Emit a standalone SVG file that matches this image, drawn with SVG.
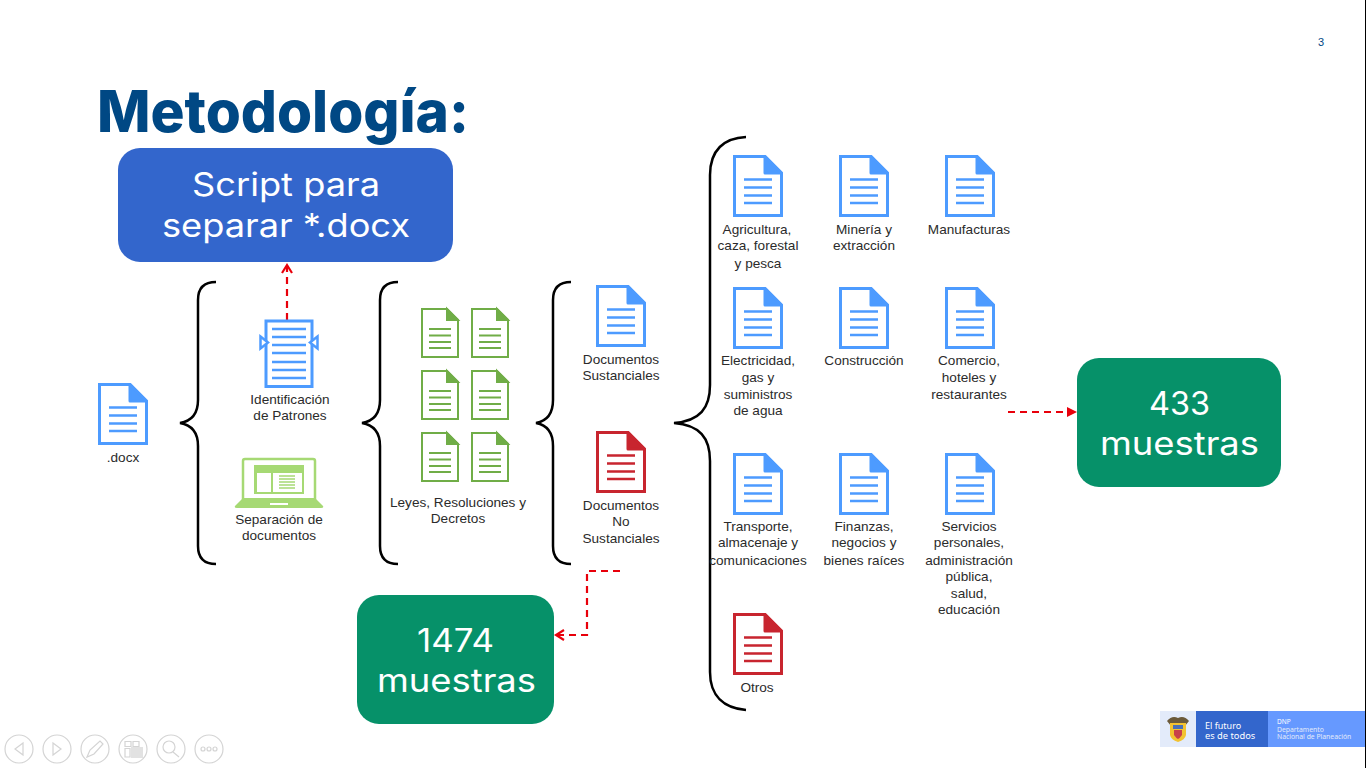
<svg xmlns="http://www.w3.org/2000/svg" width="1366" height="768" viewBox="0 0 1366 768">
<style>
.lb{font:13.6px "Liberation Sans",Arial,sans-serif;fill:#2b2b2b;text-anchor:middle}
.bx{font:32px Inter,"DejaVu Sans",sans-serif;fill:#fff;text-anchor:middle}
.brace{fill:none;stroke:#000;stroke-width:2.5}
.dash{fill:none;stroke:#e8000b;stroke-width:2.2;stroke-dasharray:7 5}
.tip{fill:none;stroke:#e8000b;stroke-width:2.2}
.blue{color:#4d9bff}.red{color:#c8252f}.green{color:#70ad47}
.nav{fill:#fff;stroke:#d4d4d4;stroke-width:1.2}
.navi{fill:none;stroke:#d4d4d4;stroke-width:1.2}
</style>
<defs>
<symbol id="doc" viewBox="0 0 50 62" overflow="visible">
<path d="M1.5 1.5H32L48.5 18V60.500H1.500Z" fill="#fff" stroke="currentColor" stroke-width="3"/>
<path d="M32 1.500L48.500 18H32Z" fill="currentColor" stroke="currentColor" stroke-width="3" stroke-linejoin="round"/>
<path d="M11 24.500H39M11 32.500H39M11 40.500H39M11 48H39" stroke="currentColor" stroke-width="2.400" fill="none"/>
</symbol>
<symbol id="gdoc" viewBox="0 0 38 50" overflow="visible">
<path d="M1 1H26L37 12V49H1Z" fill="#fff" stroke="currentColor" stroke-width="2"/>
<path d="M26 1L37 12H26Z" fill="currentColor" stroke="currentColor" stroke-width="2"/>
<path d="M8 21H30M8 27.500H30M8 34H30M8 40H30" stroke="currentColor" stroke-width="2" fill="none"/>
</symbol>
</defs>
<rect width="1366" height="768" fill="#fff"/>
<text x="1321" y="46" font-family="'Liberation Sans',Arial,sans-serif" font-size="11" fill="#004884" text-anchor="middle">3</text>
<text x="97" y="132" font-family="Inter,'Open Sans',sans-serif" font-size="58" font-weight="800" fill="#004884" textLength="372" lengthAdjust="spacingAndGlyphs">Metodología:</text>

<g id="connectors">
<path class="brace" d="M216 282C204 282 198 288 198 300V400C198 414 192 421 180 423C192 425 198 432 198 446V546C198 558 204 564 216 564"/>
<path class="brace" d="M398 282C386 282 380 288 380 300V400C380 414 374 421 362 423C374 425 380 432 380 446V546C380 558 386 564 398 564"/>
<path class="brace" d="M571 282C559 282 553 288 553 300V400C553 414 547 421 536 423C547 425 553 432 553 446V546C553 558 559 564 571 564"/>
<path class="brace" d="M746 137C724 138 710 150 710 175V385C710 408 700 421 674 423C700 425 710 438 710 461V672C710 696 724 708 746 710"/>
<path class="dash" d="M287 320V266"/>
<path class="tip" d="M282 273L287 265L292 273"/>
<path class="dash" d="M620 571H587V635H557"/>
<path class="tip" d="M564 630L556 635L564 640"/>
<path class="dash" d="M1008 412H1068"/>
<path d="M1067 407L1077 412L1067 417Z" fill="#e8000b"/>
</g>

<g id="script"><rect x="118" y="148" width="335" height="114" rx="22" fill="#3366cc"/><text class="bx" x="286" y="196" textLength="188" lengthAdjust="spacingAndGlyphs">Script para</text><text class="bx" x="286" y="237" textLength="248" lengthAdjust="spacingAndGlyphs">separar *.docx</text></g>
<g id="m433"><rect x="1077" y="358" width="204" height="129" rx="22" fill="#069169"/><text class="bx" x="1179.500" y="414.500" textLength="61" lengthAdjust="spacingAndGlyphs">433</text><text class="bx" x="1179.500" y="455" textLength="159" lengthAdjust="spacingAndGlyphs">muestras</text></g>
<g id="m1474"><rect x="357" y="595" width="197" height="129" rx="22" fill="#069169"/><text class="bx" x="455.500" y="652" textLength="77" lengthAdjust="spacingAndGlyphs">1474</text><text class="bx" x="456.500" y="692" textLength="159" lengthAdjust="spacingAndGlyphs">muestras</text></g>

<g id="docx"><use href="#doc" class="blue" x="98" y="383" width="50" height="62"/><text class="lb" x="123" y="462">.docx</text></g>
<g id="patrones">
<rect x="266" y="321" width="46" height="65.500" fill="#fff" stroke="#4d9bff" stroke-width="3"/>
<path d="M272 329H306M272 337H306M272 345H306M272 353H306M272 362H306M272 370H306M272 378H306" stroke="#4d9bff" stroke-width="2.400"/>
<path d="M260.500 336.500L268 342.500L260.500 348.500Z M317.500 336.500L310 342.500L317.500 348.500Z" fill="#fff" stroke="#4d9bff" stroke-width="2.500"/>
<text class="lb" x="290" y="404">Identificación</text><text class="lb" x="290" y="420">de Patrones</text>
</g>
<g id="separacion">
<path d="M243 500V461Q243 459 245 459H313Q315 459 315 461V500" fill="#fff" stroke="#a6d974" stroke-width="2.500"/>
<path d="M243 498L235 506Q234 508 237 508H321Q324 508 323 506L315 498Z" fill="#a6d974"/>
<rect x="270" y="503" width="18" height="2" fill="#fff"/>
<rect x="254" y="465" width="50" height="29" fill="#a6d974"/>
<rect x="257" y="473" width="14" height="19" fill="#fff"/><rect x="273" y="473" width="29" height="19" fill="#fff"/>
<path d="M279 476H295M279 479H295M279 482H295M279 485H295M279 488H295" stroke="#a6d974" stroke-width="1.500"/>
<text class="lb" x="279" y="524">Separación de</text><text class="lb" x="279" y="540">documentos</text>
</g>
<g id="leyes">
<use href="#gdoc" class="green" x="421" y="308" width="38" height="50"/><use href="#gdoc" class="green" x="471" y="308" width="38" height="50"/>
<use href="#gdoc" class="green" x="421" y="370" width="38" height="50"/><use href="#gdoc" class="green" x="471" y="370" width="38" height="50"/>
<use href="#gdoc" class="green" x="421" y="432" width="38" height="50"/><use href="#gdoc" class="green" x="471" y="432" width="38" height="50"/>
<text class="lb" x="458" y="507">Leyes, Resoluciones y</text><text class="lb" x="458" y="523">Decretos</text>
</g>
<g id="sust"><use href="#doc" class="blue" x="596" y="285" width="50" height="62"/><text class="lb" x="621" y="364">Documentos</text><text class="lb" x="621" y="380">Sustanciales</text></g>
<g id="nosust"><use href="#doc" class="red" x="596" y="431" width="50" height="62"/><text class="lb" x="621" y="510">Documentos</text><text class="lb" x="621" y="526">No</text><text class="lb" x="621" y="543">Sustanciales</text></g>

<g id="agri"><use href="#doc" class="blue" x="733" y="155" width="50" height="62"/><text class="lb" x="757" y="234">Agricultura,</text><text class="lb" x="758" y="250">caza, forestal</text><text class="lb" x="758" y="268">y pesca</text></g>
<g id="mineria"><use href="#doc" class="blue" x="839" y="155" width="50" height="62"/><text class="lb" x="864" y="234">Minería y</text><text class="lb" x="864" y="250">extracción</text></g>
<g id="manu"><use href="#doc" class="blue" x="945" y="155" width="50" height="62"/><text class="lb" x="969" y="234">Manufacturas</text></g>
<g id="elec"><use href="#doc" class="blue" x="733" y="287" width="50" height="62"/><text class="lb" x="758" y="365">Electricidad,</text><text class="lb" x="758" y="382">gas y</text><text class="lb" x="758" y="399">suministros</text><text class="lb" x="758" y="415">de agua</text></g>
<g id="cons"><use href="#doc" class="blue" x="839" y="287" width="50" height="62"/><text class="lb" x="864" y="365">Construcción</text></g>
<g id="comercio"><use href="#doc" class="blue" x="945" y="287" width="50" height="62"/><text class="lb" x="969" y="365">Comercio,</text><text class="lb" x="969" y="382">hoteles y</text><text class="lb" x="969" y="399">restaurantes</text></g>
<g id="trans"><use href="#doc" class="blue" x="733" y="453" width="50" height="62"/><text class="lb" x="758" y="531">Transporte,</text><text class="lb" x="758" y="547">almacenaje y</text><text class="lb" x="758" y="565">comunicaciones</text></g>
<g id="fin"><use href="#doc" class="blue" x="839" y="453" width="50" height="62"/><text class="lb" x="864" y="531">Finanzas,</text><text class="lb" x="864" y="547">negocios y</text><text class="lb" x="864" y="565">bienes raíces</text></g>
<g id="serv"><use href="#doc" class="blue" x="945" y="453" width="50" height="62"/><text class="lb" x="969" y="531">Servicios</text><text class="lb" x="969" y="547">personales,</text><text class="lb" x="969" y="565">administración</text><text class="lb" x="969" y="581">pública,</text><text class="lb" x="969" y="598">salud,</text><text class="lb" x="969" y="614">educación</text></g>
<g id="otros"><use href="#doc" class="red" x="733" y="613" width="50" height="62"/><text class="lb" x="757" y="692">Otros</text></g>

<g id="logo">
<rect x="1160" y="711" width="36" height="36" fill="#e3ebfa"/><rect x="1196" y="711" width="72" height="36" fill="#3366cc"/><rect x="1268" y="711" width="97" height="36" fill="#6699ff"/>
<path d="M1167 721Q1172 715 1178 718Q1184 715 1189 721L1185 726H1171Z" fill="#6b5a3a"/>
<path d="M1170 723H1186V735Q1185 740 1178 742Q1171 740 1170 735Z" fill="#f2c230"/>
<rect x="1173" y="725" width="10" height="4" fill="#4a6fb5"/>
<path d="M1174 730H1182V735Q1180 738 1178 739Q1176 738 1174 735Z" fill="#c8404a"/>
<g font-family="'Noto Sans',sans-serif" fill="#fff"><text x="1205" y="728.500" font-size="9">El futuro</text><text x="1205" y="739" font-size="9.300">es de todos</text>
<text x="1277" y="724" font-size="6.500">DNP</text><text x="1277" y="731.500" font-size="6.800" fill="#e3ebfa">Departamento</text><text x="1277" y="739" font-size="6.800" fill="#e3ebfa">Nacional de Planeación</text></g>
</g>
<g id="toolbar">
<circle class="nav" cx="19" cy="749" r="14"/><path class="navi" d="M23 743L15 749L23 755Z"/>
<circle class="nav" cx="57" cy="749" r="14"/><path class="navi" d="M53 743L61 749L53 755Z"/>
<circle class="nav" cx="95" cy="749" r="14"/><path class="navi" d="M87 757L90 750L100 741L103 744L94 754Z"/>
<circle class="nav" cx="133" cy="749" r="14"/><rect x="131" y="747" width="12" height="11" fill="#e2e2e2"/><path class="navi" d="M125 741.500H131V746.500H125ZM133 741.500H139V746.500H133ZM125 748.500H130V757H125Z" stroke-width="1.500"/>
<circle class="nav" cx="171" cy="749" r="14"/><circle class="navi" cx="169" cy="747" r="6" stroke-width="2"/><path class="navi" d="M173 752L179 757" stroke-width="3"/>
<circle class="nav" cx="209" cy="749" r="14"/><circle class="navi" cx="203" cy="749" r="2"/><circle class="navi" cx="209" cy="749" r="2"/><circle class="navi" cx="215" cy="749" r="2"/>
</g>
<path id="edge" d="M1365.500 0V768" stroke="#000" stroke-width="1"/>
</svg>
